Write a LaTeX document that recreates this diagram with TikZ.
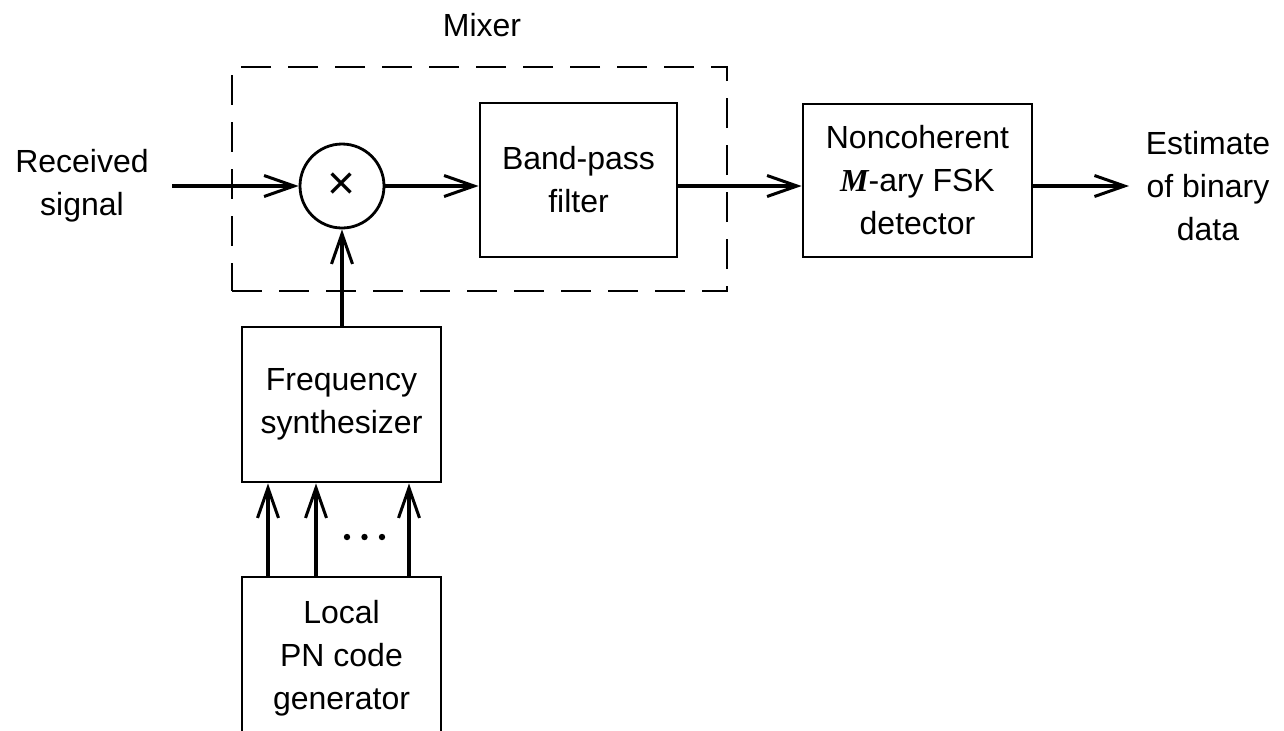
\documentclass[tikz,border=0pt]{standalone}
\usepackage{fontspec}
\setmainfont{Liberation Sans}
\newfontfamily\varfont{Liberation Serif}
\usetikzlibrary{arrows.meta}
\begin{document}
\begin{tikzpicture}[x=0.5pt,y=-0.5pt,
  every node/.style={font=\fontsize{16}{21.5}\selectfont, align=center, inner sep=0pt},
  blockbox/.style={draw, line width=1.4pt},
  sig/.style={line width=2.2pt, -{Straight Barb[length=15pt,width=10.5pt,line width=1.5pt]}},
  mixframe/.style={draw, line width=1.4pt, dash pattern=on 15pt off 8.5pt},
]
\useasboundingbox (0,0) rectangle (1284,730);

% mixer frame and its label
\node[mixframe, minimum width=247.5pt, minimum height=112pt] (frame) at (479.5,179) {};
\node (mixlbl) at (482,25) {Mixer};

% blocks
\node[draw, circle, line width=1.4pt, minimum size=42pt] (mix) at (342,186) {\fontsize{24}{24}\selectfont ×};
\node[blockbox, minimum width=98.5pt, minimum height=77pt] (bpf) at (578.5,180) {Band-pass\\filter};
\node[blockbox, minimum width=114.5pt, minimum height=76.5pt] (det) at (917.5,180.5) {Noncoherent\\{\varfont\bfseries\itshape M}-ary FSK\\detector};
\node[blockbox, minimum width=99.5pt, minimum height=77.5pt] (syn) at (341.5,404.5) {Frequency\\synthesizer};
\node[blockbox, minimum width=99.5pt, minimum height=81.5pt] (pn) at (341.5,658.5) {Local\\PN code\\generator};

% input and output labels
\node (rx) at (82,186) {Received\\signal};
\node (est) at (1208,186) {Estimate\\of binary\\data};
\coordinate (rxout) at (172,186);
\coordinate (estin) at (1129,186);

% signal path
\draw[sig] (rxout) -- (mix.west);
\draw[sig] (mix.east) -- (bpf.west |- mix.east);
\draw[sig] (bpf.east |- mix.east) -- (det.west |- mix.east);
\draw[sig] (det.east |- mix.east) -- (estin);
\draw[sig] (syn.north -| mix.south) -- (mix.south);

% code lines into the synthesizer
\foreach \xx in {268,316,409}
  \draw[sig] (pn.north -| \xx,0) -- (syn.south -| \xx,0);
\foreach \xx in {347,364.5,382}
  \fill (\xx,537) circle (1.6pt);
\end{tikzpicture}
\end{document}
